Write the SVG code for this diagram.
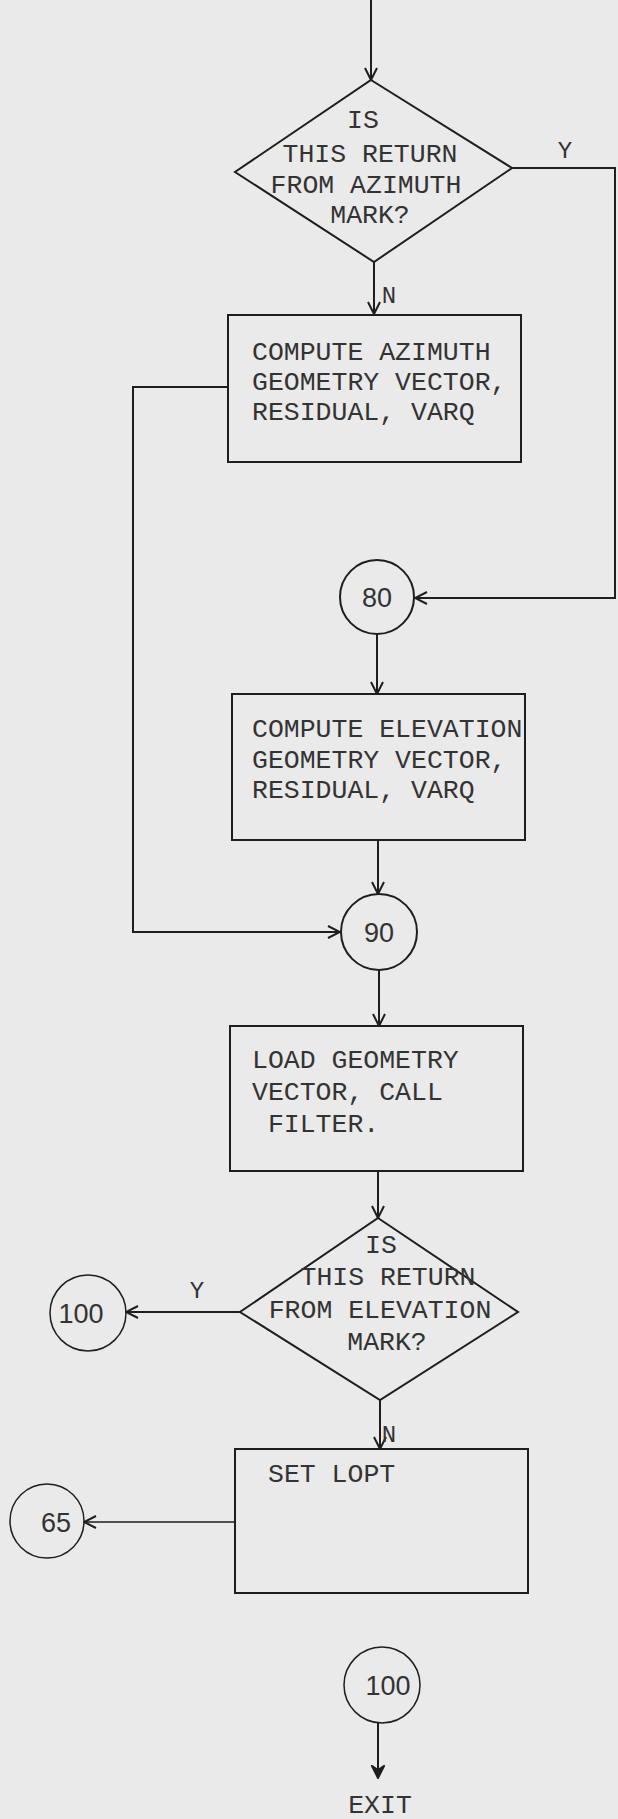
<svg xmlns="http://www.w3.org/2000/svg" width="618" height="1819" viewBox="0 0 618 1819">
<style>
.bg{fill:#eaeaea}
.shape{fill:none;stroke:#1e1e1e;stroke-width:2}
.conn{fill:none;stroke:#1e1e1e;stroke-width:2}
.thin{stroke-width:1.5}
.tw{font-family:"Liberation Mono","DejaVu Sans Mono",monospace;font-size:26.5px;fill:#333}
.hand{font-family:"Liberation Sans","DejaVu Sans",sans-serif;font-size:27px;fill:#333}
.lbl{font-family:"Liberation Mono","DejaVu Sans Mono",monospace;font-size:24px;fill:#333}
</style>
<defs>
<marker id="arr" viewBox="0 0 14 14" refX="13" refY="7" markerWidth="14" markerHeight="14" markerUnits="userSpaceOnUse" orient="auto">
<path d="M1,1 L13,7 L1,13" fill="none" stroke="#1e1e1e" stroke-width="2"/>
</marker>
<marker id="arrf" viewBox="0 0 14 14" refX="13" refY="7" markerWidth="14" markerHeight="14" markerUnits="userSpaceOnUse" orient="auto">
<path d="M1,1 L13,7 L1,13 L5,7 Z" fill="#1e1e1e" stroke="#1e1e1e" stroke-width="2"/>
</marker>
</defs>
<rect class="bg" x="0" y="0" width="618" height="1819"/>

<g id="connectors">
<path class="conn" d="M371,0 L371,80" marker-end="url(#arr)"/>
<path class="conn" d="M512,168 L615,168 L615,598 L415,598" marker-end="url(#arr)"/>
<path class="conn" d="M374,262 L374,314" marker-end="url(#arr)"/>
<path class="conn" d="M228,387 L133,387 L133,932 L340,932" marker-end="url(#arr)"/>
<path class="conn" d="M377,634 L377,694" marker-end="url(#arr)"/>
<path class="conn" d="M378,840 L378,894" marker-end="url(#arr)"/>
<path class="conn" d="M379,970 L379,1026" marker-end="url(#arr)"/>
<path class="conn" d="M378,1171 L378,1218" marker-end="url(#arr)"/>
<path class="conn" d="M240,1312 L126,1312" marker-end="url(#arr)"/>
<path class="conn" d="M380,1400 L380,1449" marker-end="url(#arr)"/>
<path class="conn thin" d="M235,1522 L84,1522" marker-end="url(#arr)"/>
<path class="conn" d="M378,1722 L378,1778" marker-end="url(#arrf)"/>
<text class="lbl" x="565" y="158" text-anchor="middle">Y</text>
<text class="lbl" x="389" y="303" text-anchor="middle">N</text>
<text class="lbl" x="197" y="1298" text-anchor="middle">Y</text>
<text class="lbl" x="389" y="1442" text-anchor="middle">N</text>
</g>

<g id="decision1">
<polygon class="shape" points="371,80 512,168 374,262 235,172"/>
<text class="tw" x="363" y="128" text-anchor="middle">IS</text>
<text class="tw" x="370" y="162" text-anchor="middle">THIS RETURN</text>
<text class="tw" x="366" y="193" text-anchor="middle">FROM AZIMUTH</text>
<text class="tw" x="370" y="223" text-anchor="middle">MARK?</text>
</g>

<g id="box-azimuth">
<rect class="shape" x="228" y="315" width="293" height="147"/>
<text class="tw" x="252" y="360">COMPUTE AZIMUTH</text>
<text class="tw" x="252" y="390">GEOMETRY VECTOR,</text>
<text class="tw" x="252" y="420">RESIDUAL, VARQ</text>
</g>

<g id="conn80">
<circle class="shape" cx="377" cy="597" r="37"/>
<text class="hand" x="377" y="607" text-anchor="middle">80</text>
</g>

<g id="box-elevation">
<rect class="shape" x="232" y="694" width="293" height="146"/>
<text class="tw" x="252" y="737">COMPUTE ELEVATION</text>
<text class="tw" x="252" y="768">GEOMETRY VECTOR,</text>
<text class="tw" x="252" y="798">RESIDUAL, VARQ</text>
</g>

<g id="conn90">
<circle class="shape" cx="379" cy="932" r="38"/>
<text class="hand" x="379" y="942" text-anchor="middle">90</text>
</g>

<g id="box-load">
<rect class="shape" x="230" y="1026" width="293" height="145"/>
<text class="tw" x="252" y="1068">LOAD GEOMETRY</text>
<text class="tw" x="252" y="1100">VECTOR, CALL</text>
<text class="tw" x="252" y="1132" xml:space="preserve"> FILTER.</text>
</g>

<g id="decision2">
<polygon class="shape" points="378,1218 518,1312 380,1400 240,1312"/>
<text class="tw" x="381" y="1253" text-anchor="middle">IS</text>
<text class="tw" x="388" y="1285" text-anchor="middle">THIS RETURN</text>
<text class="tw" x="380" y="1318" text-anchor="middle">FROM ELEVATION</text>
<text class="tw" x="387" y="1350" text-anchor="middle">MARK?</text>
</g>

<g id="conn100-left">
<circle class="shape thin" cx="88" cy="1313" r="38"/>
<text class="hand" x="81" y="1323" text-anchor="middle">100</text>
</g>

<g id="box-setlopt">
<rect class="shape" x="235" y="1449" width="293" height="144"/>
<text class="tw" x="268" y="1482">SET LOPT</text>
</g>

<g id="conn65">
<circle class="shape thin" cx="47" cy="1521" r="37"/>
<text class="hand" x="56" y="1532" text-anchor="middle">65</text>
</g>

<g id="conn100-bottom">
<circle class="shape thin" cx="382" cy="1685" r="38"/>
<text class="hand" x="388" y="1695" text-anchor="middle">100</text>
</g>

<g id="exit">
<text class="tw" x="380" y="1813" text-anchor="middle">EXIT</text>
</g>
</svg>
